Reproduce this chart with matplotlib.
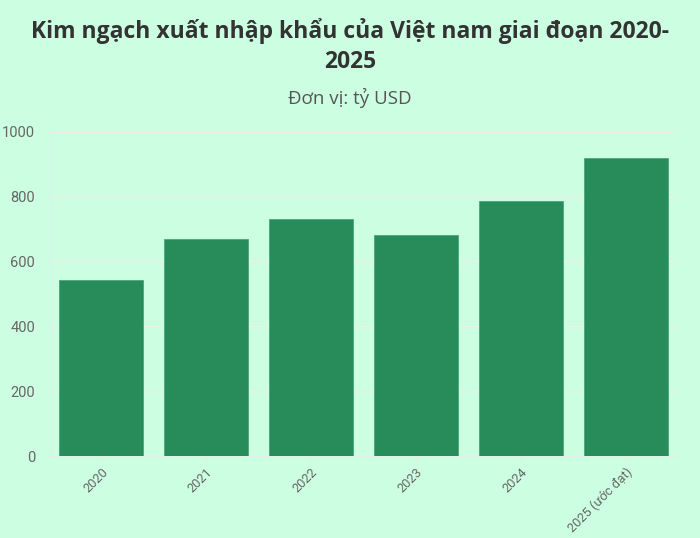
import matplotlib
matplotlib.use("Agg")
import matplotlib.pyplot as plt

categories = ["2020", "2021", "2022", "2023", "2024", "2025 (ước đạt)"]
values = [543, 668, 731, 681, 786, 919]
yticks = [0, 200, 400, 600, 800, 1000]

bg = "#ccffe1"
bar_color = "#278c59"
tick_font = "Roboto"

fig = plt.figure(figsize=(7, 5.38), dpi=100, facecolor=bg)
ax = fig.add_axes([49/700, 1 - 456/538, (678-49)/700, (456-131.7)/538])
ax.set_facecolor(bg)

x = list(range(len(categories)))
ax.bar(x, values, width=0.8, color=bar_color, edgecolor="#4aa877", linewidth=0.6, zorder=3)
ax.set_xlim(-0.5, len(categories) - 0.5)
ax.set_ylim(0, 1000)
ax.set_yticks(yticks)
ax.set_yticklabels([str(v) for v in yticks], fontfamily=tick_font, fontsize=10.5, color="#666666")
ax.set_xticks(x)
ax.set_xticklabels(categories, rotation=45, ha="right", rotation_mode="anchor",
                   fontfamily=tick_font, fontsize=9.3, color="#666666")
ax.grid(axis="y", color="#e6ece8", linewidth=1, zorder=0)
for s in ["top", "right"]:
    ax.spines[s].set_visible(False)
ax.spines["left"].set_color("#e6ece8")
ax.spines["bottom"].set_color("#e6ece8")
ax.tick_params(axis="y", length=0, pad=10)
ax.tick_params(axis="x", length=4, color="#e6ece8", pad=3)

fig.text(0.5, 1 - 31/538, "Kim ngạch xuất nhập khẩu của Việt nam giai đoạn 2020-",
         ha="center", va="center", fontfamily="Open Sans", fontweight="bold",
         fontsize=16.5, color="#333333")
fig.text(0.5, 1 - 62/538, "2025", ha="center", va="center", fontfamily="Open Sans",
         fontweight="bold", fontsize=16.5, color="#333333")
fig.text(0.5, 1 - 98/538, "Đơn vị: tỷ USD", ha="center", va="center",
         fontfamily="Open Sans", fontsize=13.5, color="#555555")

fig.savefig("out.png", dpi=100, facecolor=bg)
